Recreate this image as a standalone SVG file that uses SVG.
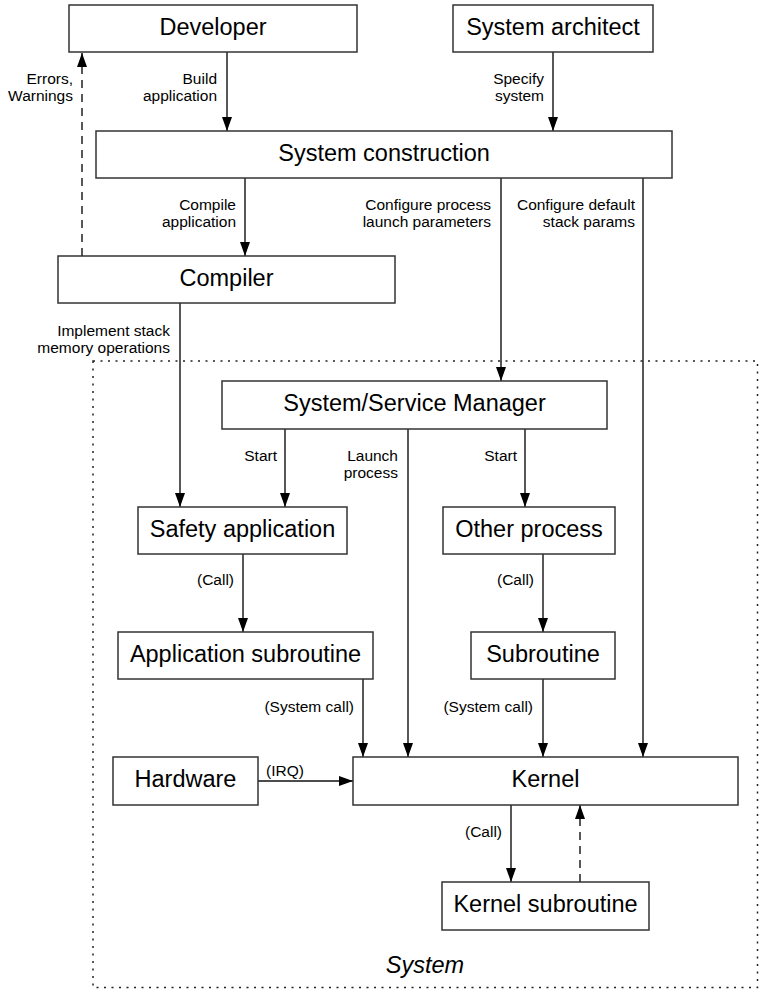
<svg xmlns="http://www.w3.org/2000/svg" width="773" height="1004" viewBox="0 0 773 1004">
<style>
.box{fill:#fff;stroke:#333;stroke-width:1.5}
.t{font-family:"Liberation Sans",Arial,sans-serif;font-size:23.5px;fill:#000;text-anchor:middle}
.l{font-family:"Liberation Sans",Arial,sans-serif;font-size:15.5px;fill:#000;text-anchor:end}
.ls{text-anchor:start}
.e{fill:none;stroke:#111;stroke-width:1.4}
.d{stroke-dasharray:8 6}
.sys{fill:none;stroke:#222;stroke-width:1.5;stroke-dasharray:2 5.5}
</style>
<defs>
<marker id="arr" viewBox="0 0 14 10" refX="14" refY="5" markerWidth="14" markerHeight="10" orient="auto" markerUnits="userSpaceOnUse">
<path d="M0,0 L14,5 L0,10 z" fill="#000"/>
</marker>
</defs>
<rect class="sys" x="93" y="361" width="664.5" height="626.5"/>
<text x="425" y="973" class="t" font-style="italic">System</text>
<g id="connectors">
<line class="e" x1="227" y1="52" x2="227" y2="131" marker-end="url(#arr)"/>
<line class="e" x1="553" y1="52" x2="553" y2="131" marker-end="url(#arr)"/>
<line class="e" x1="245" y1="178" x2="245" y2="256" marker-end="url(#arr)"/>
<line class="e d" x1="82" y1="256" x2="82" y2="53" marker-end="url(#arr)"/>
<line class="e" x1="501" y1="178" x2="501" y2="381" marker-end="url(#arr)"/>
<line class="e" x1="643" y1="178" x2="643" y2="757" marker-end="url(#arr)"/>
<line class="e" x1="180" y1="303" x2="180" y2="507" marker-end="url(#arr)"/>
<line class="e" x1="285" y1="429" x2="285" y2="507" marker-end="url(#arr)"/>
<line class="e" x1="408" y1="429" x2="408" y2="757" marker-end="url(#arr)"/>
<line class="e" x1="525" y1="429" x2="525" y2="507" marker-end="url(#arr)"/>
<line class="e" x1="243" y1="554" x2="243" y2="632" marker-end="url(#arr)"/>
<line class="e" x1="543" y1="554" x2="543" y2="632" marker-end="url(#arr)"/>
<line class="e" x1="363" y1="679" x2="363" y2="757" marker-end="url(#arr)"/>
<line class="e" x1="543" y1="679" x2="543" y2="757" marker-end="url(#arr)"/>
<line class="e" x1="258" y1="781" x2="353" y2="781" marker-end="url(#arr)"/>
<line class="e" x1="511" y1="805" x2="511" y2="882" marker-end="url(#arr)"/>
<line class="e d" x1="580" y1="882" x2="580" y2="805" marker-end="url(#arr)"/>
<text class="l" x="73" y="84">Errors,</text>
<text class="l" x="73" y="101">Warnings</text>
<text class="l" x="217" y="84">Build</text>
<text class="l" x="217" y="101">application</text>
<text class="l" x="544" y="84">Specify</text>
<text class="l" x="544" y="101">system</text>
<text class="l" x="236" y="210">Compile</text>
<text class="l" x="236" y="227">application</text>
<text class="l" x="491" y="210">Configure process</text>
<text class="l" x="491" y="227">launch parameters</text>
<text class="l" x="635" y="210">Configure default</text>
<text class="l" x="635" y="227">stack params</text>
<text class="l" x="170" y="336">Implement stack</text>
<text class="l" x="170" y="353">memory operations</text>
<text class="l" x="277" y="461">Start</text>
<text class="l" x="398" y="461">Launch</text>
<text class="l" x="398" y="478">process</text>
<text class="l" x="517" y="461">Start</text>
<text class="l" x="234" y="585">(Call)</text>
<text class="l" x="534" y="585">(Call)</text>
<text class="l" x="354" y="712">(System call)</text>
<text class="l" x="533" y="712">(System call)</text>
<text class="l ls" x="266" y="776">(IRQ)</text>
<text class="l" x="502" y="837">(Call)</text>
</g>
<g id="developer"><rect class="box" x="69" y="5" width="288" height="47"/><text class="t" x="213" y="35">Developer</text></g>
<g id="architect"><rect class="box" x="453" y="5" width="200" height="47"/><text class="t" x="553" y="35">System architect</text></g>
<g id="construction"><rect class="box" x="96" y="131" width="576" height="47"/><text class="t" x="384" y="161">System construction</text></g>
<g id="compiler"><rect class="box" x="58" y="256" width="337" height="47"/><text class="t" x="226.5" y="286">Compiler</text></g>
<g id="manager"><rect class="box" x="222" y="381" width="385" height="48"/><text class="t" x="414.5" y="411">System/Service Manager</text></g>
<g id="safety"><rect class="box" x="138" y="507" width="209" height="47"/><text class="t" x="242.5" y="537">Safety application</text></g>
<g id="other"><rect class="box" x="443" y="507" width="172" height="47"/><text class="t" x="529" y="537">Other process</text></g>
<g id="appsub"><rect class="box" x="118" y="632" width="255" height="47"/><text class="t" x="245.5" y="662">Application subroutine</text></g>
<g id="sub"><rect class="box" x="471" y="632" width="144" height="47"/><text class="t" x="543" y="662">Subroutine</text></g>
<g id="hardware"><rect class="box" x="113" y="757" width="145" height="48"/><text class="t" x="185.5" y="787">Hardware</text></g>
<g id="kernel"><rect class="box" x="353" y="757" width="385" height="48"/><text class="t" x="545.5" y="787">Kernel</text></g>
<g id="kernelsub"><rect class="box" x="442" y="882" width="207" height="48"/><text class="t" x="545.5" y="912">Kernel subroutine</text></g>
</svg>
